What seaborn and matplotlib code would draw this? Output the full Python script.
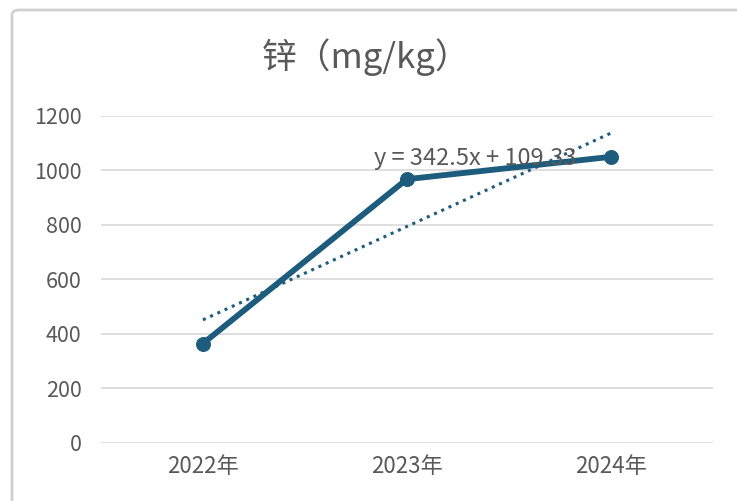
import numpy as np
import pandas as pd
import seaborn as sns
import matplotlib.pyplot as plt
from matplotlib.patches import FancyBboxPatch

# data
years = ['2022年', '2023年', '2024年']
zinc = [365, 968, 1050]
yticks = [0, 200, 400, 600, 800, 1000, 1200]

sns.set_style('white')
plt.rcParams['font.family'] = ['Noto Sans CJK SC', 'DejaVu Sans']

color = '#1d5c7c'
gray = '#595959'

fig = plt.figure(figsize=(7.37, 5.01), dpi=100)
ax = fig.add_axes([0.137, 0.1158, 0.830, 0.6527])

df = pd.DataFrame({'year': years, 'zinc': zinc})
sns.lineplot(data=df, x='year', y='zinc', ax=ax, color=color, linewidth=4.2,
             marker='o', markersize=10, markeredgecolor=color, sort=False)

# linear trendline (x = 1, 2, 3 as in Excel)
xs = np.arange(1, len(zinc) + 1)
k, b = np.polyfit(xs, zinc, 1)
ax.plot(xs - 1, k * xs + b, linestyle=(0, (1, 1.6)), color=color, linewidth=2.2)
ax.text(0.84, 1020, 'y = 342.5x + 109.33', fontsize=17, color=gray, va='baseline')

ax.set_xlim(-0.5, 2.5)
ax.set_ylim(0, 1200)
ax.set_yticks(yticks)
ax.yaxis.grid(True, color='#d9d9d9', linewidth=1.2)
ax.set_axisbelow(True)
for s in ax.spines.values():
    s.set_visible(False)
ax.set_xlabel('')
ax.set_ylabel('')
ax.tick_params(axis='both', length=0, labelcolor=gray)
ax.tick_params(axis='y', pad=14, labelsize=15.5)
ax.tick_params(axis='x', pad=9, labelsize=16)

fig.text(0.497, 0.885, '锌（mg/kg）', ha='center', va='center', fontsize=25, color=gray)

# outer chart frame
frame = FancyBboxPatch((12 / 737, -0.1), 1.2, 1.1 - 10 / 501,
                       boxstyle='round,pad=0,rounding_size=0.01',
                       transform=fig.transFigure, fill=False,
                       edgecolor='#d0d0d0', linewidth=2)
fig.patches.append(frame)

fig.savefig('out.png', dpi=100)
